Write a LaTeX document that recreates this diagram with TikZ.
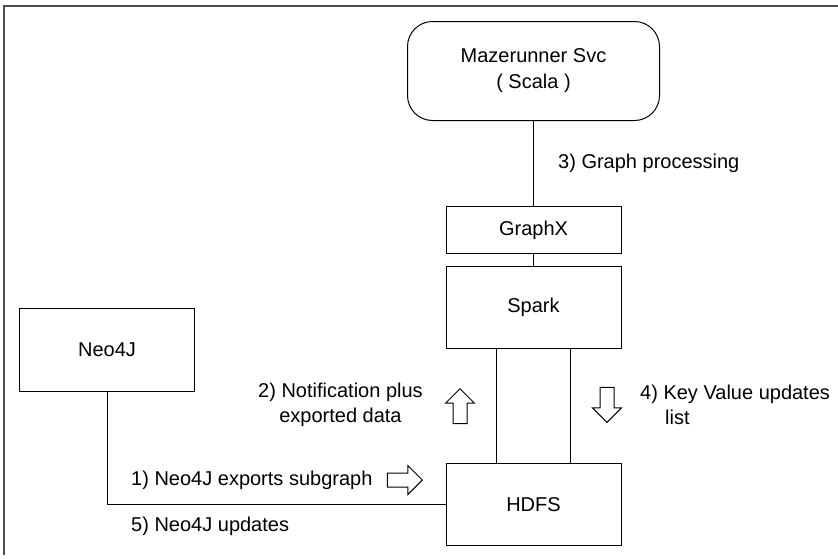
\documentclass[tikz,border=0pt]{standalone}
\usepackage{fontspec}
\setmainfont{Liberation Sans}
\usetikzlibrary{shapes.arrows}
\tikzset{
    block/.style={draw,line width=1pt,minimum width=175pt,anchor=north west,inner sep=0pt,font=\fontsize{20}{26}\selectfont,align=center},
    label/.style={anchor=west,inner sep=0pt,font=\fontsize{20}{25}\selectfont,align=left},
    link/.style={line width=1pt},
    flow/.style={draw,line width=1pt,single arrow,anchor=tip,minimum height=35pt,minimum width=29pt,single arrow head extend=7.5pt,inner sep=6.5pt,shape border rotate=#1}
}
\begin{document}
\begin{tikzpicture}[x=1pt,y=-1pt]
    \useasboundingbox (0,0) rectangle (838,558);
    %frame
    \draw[line width=2pt,black!70] (4,555) -- (4,6) -- (838,6);
    %blocks
    \node[block,rounded corners=25pt,minimum width=252pt,minimum height=99pt] (mazerunner) at (407,21) {Mazerunner Svc\\( Scala )};
    \node[block,minimum height=47pt] (graphx) at (445.5,206) {GraphX};
    \node[block,minimum height=82pt] (spark) at (445.5,266) {Spark};
    \node[block,minimum height=82pt] (hdfs) at (445.5,463) {HDFS};
    \node[block,minimum height=83pt] (neo) at (19,308) {Neo4J};
    %links
    \draw[link] (mazerunner.south) -- (graphx.north);
    \draw[link] (graphx.south) -- (spark.north);
    \draw[link] ([xshift=-37pt]spark.south) -- ([xshift=-37pt]hdfs.north);
    \draw[link] ([xshift=37pt]spark.south) -- ([xshift=37pt]hdfs.north);
    \draw[link] (neo.south) |- (hdfs.west);
    %hollow arrows
    \node[flow=90] (up) at (460,388) {};
    \node[flow=270] (down) at (607,423) {};
    \node[flow=0] (right) at (423,480) {};
    %labels
    \node[label] (lab1) at (131,480) {1) Neo4J exports subgraph};
    \node[label,align=center] (lab2) at (258,405) {2) Notification plus\\exported data};
    \node[label] (lab3) at (558,163) {3) Graph processing};
    \node[label] (lab4) at (640,405) {4) Key Value updates\\\hspace{25pt}list};
    \node[label] (lab5) at (131,526) {5) Neo4J updates};
\end{tikzpicture}
\end{document}
